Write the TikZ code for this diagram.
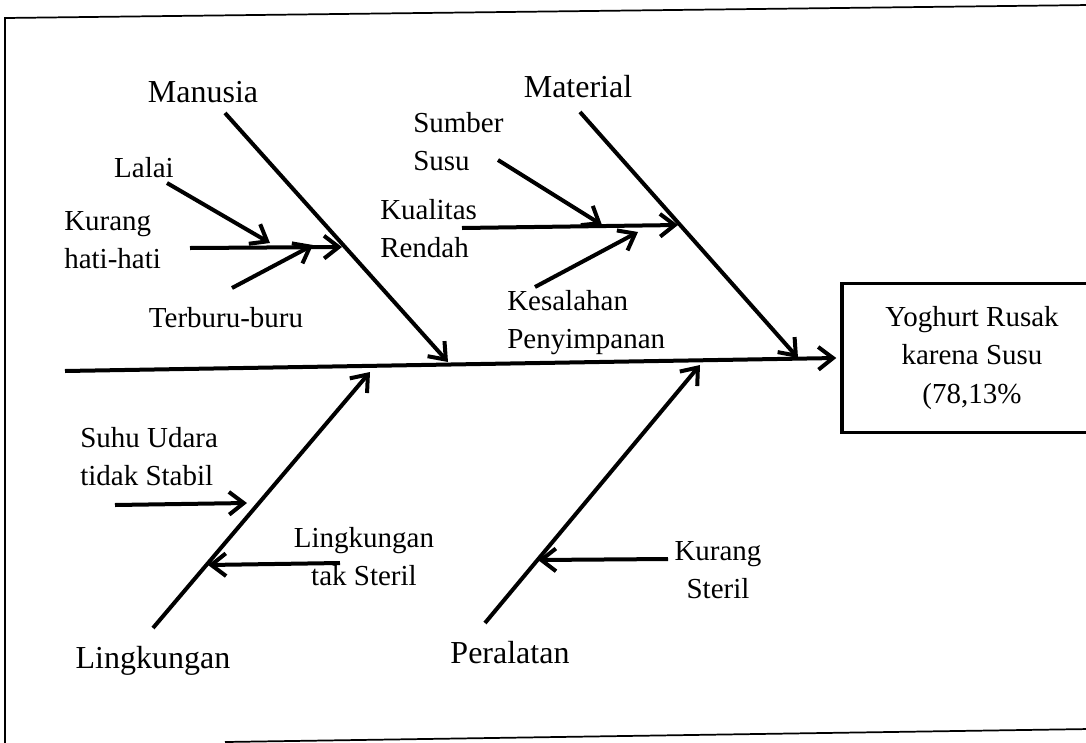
\documentclass[tikz,border=0pt]{standalone}
\usepackage{fontspec}
\setmainfont{Liberation Serif}
\usetikzlibrary{arrows.meta}
\begin{document}
\begin{tikzpicture}[x=0.75pt,y=-0.75pt,
  bone/.style={line width=3pt, -{Straight Barb[length=11pt,width=17pt]}},
  cause/.style={font=\fontsize{21.75}{28.5}\selectfont, inner sep=0pt},
  category/.style={font=\fontsize{24}{28.5}\selectfont, inner sep=0pt},
  frameline/.style={line width=1.3pt},
  effectbox/.style={draw, line width=2.6pt, minimum width=195pt, minimum height=112pt,
    inner sep=0pt, align=center, font=\fontsize{21.75}{28.8}\selectfont}]
\useasboundingbox (0,0) rectangle (1086,743);
\clip (0,0) rectangle (1086,743);

% outer frame
\draw[frameline] (1090,5) -- (5,18) -- (5,745);
\draw[frameline] (225,742) -- (1090,729);

% effect (head of the fish)
\node[effectbox] (effect) at (972,358) {Yoghurt Rusak\\karena Susu\\(78,13\%};

% spine
\coordinate (tail) at (65,371);
\draw[bone] (tail) -- ([xshift=-3pt]effect.west);

% category labels
\node[category, anchor=base] (manusia) at (203,102) {Manusia};
\node[category, anchor=base] (material) at (578,97) {Material};
\node[category, anchor=base] (lingkungan) at (153,668) {Lingkungan};
\node[category, anchor=base] (peralatan) at (510,663) {Peralatan};

% main bones
\coordinate (manS) at (225,113);  \coordinate (manE) at (448,362);
\coordinate (matS) at (580,112);  \coordinate (matE) at (798,358);
\coordinate (linS) at (153,628);  \coordinate (linE) at (370,372);
\coordinate (perS) at (485,623);  \coordinate (perE) at (700,365);
\draw[bone] (manS) -- (manE);
\draw[bone] (matS) -- (matE);
\draw[bone] (linS) -- (linE);
\draw[bone] (perS) -- (perE);

% causes: Manusia (base anchor of a two-line label = its last line)
\node[cause, anchor=base] (lalai) at (144,177) {Lalai};
\node[cause, anchor=base west, align=left] (kurang) at (64,268) {Kurang\\hati-hati};
\node[cause, anchor=base] (terburu) at (226,327) {Terburu-buru};
\coordinate (lalaiS) at (167,183);  \coordinate (lalaiE) at (270,243);
\coordinate (kurangS) at (190,248); \coordinate (kurangE) at (342,247);
\coordinate (terbS) at (232,288);   \coordinate (terbE) at (313,245);
\draw[bone] (lalaiS) -- (lalaiE);
\draw[bone] (kurangS) -- (kurangE);
\draw[bone] (terbS) -- (terbE);

% causes: Material
\node[cause, anchor=base west, align=left] (sumber) at (413,170) {Sumber\\Susu};
\node[cause, anchor=base west, align=left] (kualitas) at (380,257) {Kualitas\\Rendah};
\node[cause, anchor=base west, align=left] (kesalahan) at (507,348) {Kesalahan\\Penyimpanan};
\coordinate (sumS) at (498,160);  \coordinate (sumE) at (602,225);
\coordinate (kuaS) at (462,228);  \coordinate (kuaE) at (678,225);
\coordinate (kesS) at (535,287);  \coordinate (kesE) at (638,232);
\draw[bone] (sumS) -- (sumE);
\draw[bone] (kuaS) -- (kuaE);
\draw[bone] (kesS) -- (kesE);

% causes: Lingkungan
\node[cause, anchor=base west, align=left] (suhu) at (80,485) {Suhu Udara\\tidak Stabil};
\node[cause, anchor=base, align=center] (taksteril) at (364,585) {Lingkungan\\tak Steril};
\coordinate (suhuS) at (115,505); \coordinate (suhuE) at (247,503);
\coordinate (takS) at (340,563);  \coordinate (takE) at (208,565);
\draw[bone] (suhuS) -- (suhuE);
\draw[bone] (takS) -- (takE);

% causes: Peralatan
\node[cause, anchor=base, align=center] (kursteril) at (718,598) {Kurang\\Steril};
\coordinate (ksS) at (668,559);  \coordinate (ksE) at (538,560);
\draw[bone] (ksS) -- (ksE);
\end{tikzpicture}
\end{document}
